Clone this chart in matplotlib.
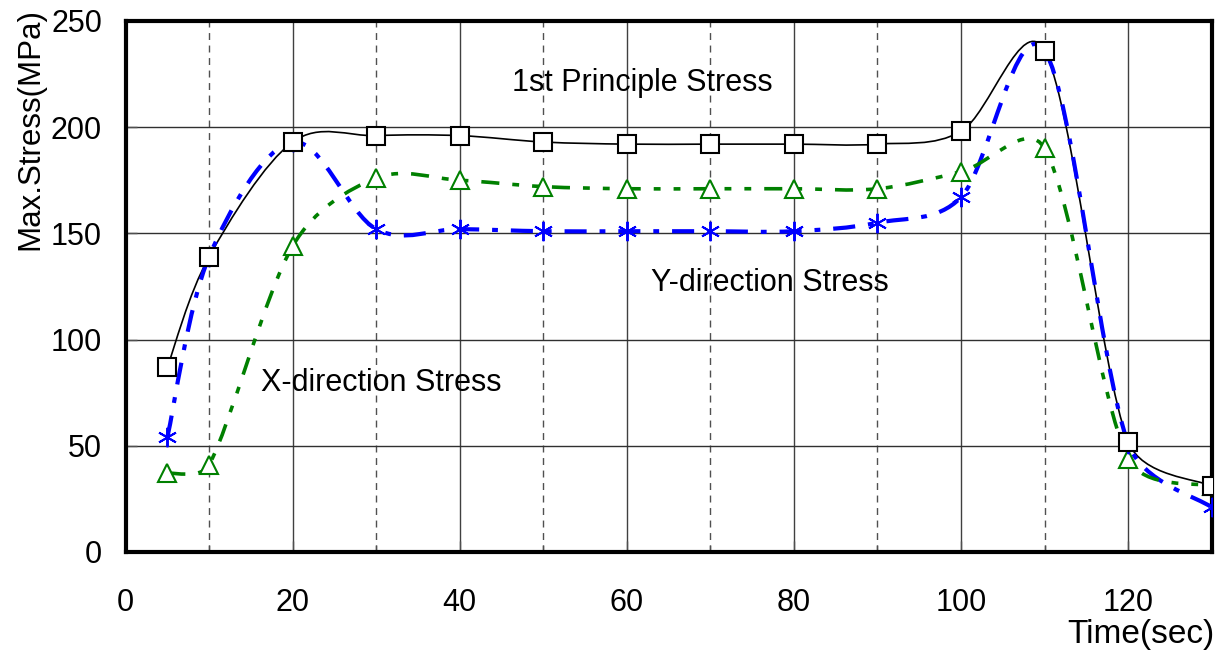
import numpy as np
import matplotlib.pyplot as plt
from matplotlib.path import Path
from matplotlib.patches import PathPatch
from matplotlib.ticker import MultipleLocator

plt.rcParams['font.family'] = ['Liberation Sans', 'DejaVu Sans']

time_s = [5, 10, 20, 30, 40, 50, 60, 70, 80, 90, 100, 110, 120, 130]
stress_1st = [87, 139, 193, 196, 196, 193, 192, 192, 192, 192, 198, 236, 52, 31]
stress_y = [54, 139, 193, 152, 152, 151, 151, 151, 151, 155, 167, 236, 51, 21]
stress_x = [37, 41, 144, 176, 175, 172, 171, 171, 171, 171, 179, 190, 44, 31]


def smooth_path(ax, xs, ys, clamp=0.4):
    # Excel-like smoothed line: Catmull-Rom Bezier segments, built in pixel
    # space with the control arms limited by the neighbouring segment length
    to_px = ax.transData
    p = to_px.transform(np.column_stack([xs, ys]).astype(float))
    n = len(p)
    verts = [p[0]]
    codes = [Path.MOVETO]
    for i in range(n - 1):
        p0 = p[i - 1] if i > 0 else p[i]
        p3 = p[i + 2] if i + 2 < n else p[i + 1]
        seg = np.hypot(*(p[i + 1] - p[i]))
        a1 = (p[i + 1] - p0) / 6
        a2 = (p3 - p[i]) / 6
        for a in (a1, a2):
            ln = np.hypot(*a)
            if ln > clamp * seg:
                a *= clamp * seg / ln
        verts += [p[i] + a1, p[i + 1] - a2, p[i + 1]]
        codes += [Path.CURVE4] * 3
    verts = to_px.inverted().transform(np.array(verts))
    return Path(verts, codes)


fig = plt.figure(figsize=(12.19, 6.54), dpi=100)
ax = fig.add_axes([0.103, 0.156, 0.891, 0.812])

ax.set_xlim(0, 130)
ax.set_ylim(0, 250)
ax.xaxis.set_major_locator(MultipleLocator(20))
ax.xaxis.set_minor_locator(MultipleLocator(10))
ax.yaxis.set_major_locator(MultipleLocator(50))

ax.grid(which='major', axis='x', color='#404040', lw=1, ls='-')
ax.grid(which='minor', axis='x', color='#505050', lw=1, ls=(0, (5, 4)))
ax.grid(which='major', axis='y', color='#303030', lw=1, ls='-')
ax.set_axisbelow(True)

# lines
ax.add_patch(PathPatch(smooth_path(ax, time_s, stress_1st), fill=False,
                       edgecolor='black', lw=1.2, zorder=3))
ax.add_patch(PathPatch(smooth_path(ax, time_s, stress_y), fill=False,
                       edgecolor='blue', lw=3, ls=(0, (5.3, 3.1, 1.4, 3.1)), zorder=3))
ax.add_patch(PathPatch(smooth_path(ax, time_s, stress_x), fill=False,
                       edgecolor='green', lw=2.6, ls=(0, (5, 3.6, 1.9, 3.6, 1.9, 3.6)), zorder=3))

# markers
ax.plot(time_s, stress_x, ls='none', marker='^', ms=13, mfc='white',
        mec='green', mew=1.5, zorder=4)
ax.plot(time_s, stress_y, ls='none', marker=(6, 2, 0), ms=14,
        mec='blue', mew=1.4, zorder=4)
ax.plot(time_s, stress_1st, ls='none', marker='s', ms=13, mfc='white',
        mec='black', mew=1.5, zorder=5)

ax.text(61.8, 221, '1st Principle Stress', fontsize=22, ha='center', va='center')
ax.text(77.1, 126.6, 'Y-direction Stress', fontsize=22, ha='center', va='center')
ax.text(30.6, 79.6, 'X-direction Stress', fontsize=22, ha='center', va='center')

for s in ax.spines.values():
    s.set_linewidth(3)
ax.tick_params(which='both', direction='in', labelsize=22, color='#505050')
ax.tick_params(which='major', length=8, width=1)
ax.tick_params(which='minor', length=5, width=1)
ax.tick_params(axis='x', pad=26)
ax.tick_params(axis='y', pad=17)

ax.set_ylabel('Max.Stress(MPa)', fontsize=22.5, loc='top')
ax.yaxis.set_label_coords(-0.074, 1.0245)
ax.set_xlabel('Time(sec)', fontsize=24, loc='right')
ax.xaxis.set_label_coords(1.003, -0.126)

fig.savefig('out.png', dpi=100)
